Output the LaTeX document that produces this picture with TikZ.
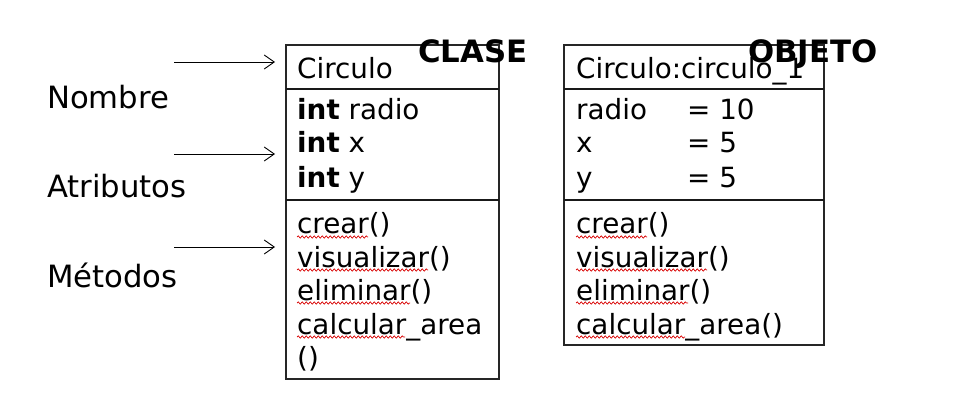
\documentclass[tikz,border=0pt]{standalone}
\usepackage{fontspec}
\setmainfont{DejaVu Sans}
\usetikzlibrary{arrows.meta,decorations.pathmorphing}
\begin{document}
\begin{tikzpicture}[x=1pt,y=-1pt,
  txt/.style={anchor=base west,inner sep=0pt,font=\fontsize{27.8}{33}\selectfont},
  lbl/.style={anchor=base west,inner sep=0pt,font=\fontsize{30.7}{36}\selectfont},
  ttl/.style={anchor=base west,inner sep=0pt,font=\fontsize{30.8}{36}\selectfont\bfseries},
  box/.style={draw=black!85,line width=1.3pt},
  sep/.style={draw=black!90,line width=1.8pt},
  arr/.style={-{Straight Barb[length=10pt,width=14pt]},line width=0.9pt},
  spell/.style={draw=red!85!black,line width=0.7pt,decorate,decoration={snake,amplitude=1.1pt,segment length=4pt}}]
\useasboundingbox[fill=white] (0,0) rectangle (970,420);

% class box
\draw[box] (286,45) rectangle (499,379);
\draw[sep] (286,89) -- (499,89);
\draw[sep] (286,200) -- (499,200);
% object box
\draw[box] (564,45) rectangle (824,345);
\draw[sep] (564,89) -- (824,89);
\draw[sep] (564,200) -- (824,200);

% left labels
\node[lbl] (nombre) at (47,108) {Nombre};
\node[lbl] (atrib) at (47,197) {Atributos};
\node[lbl] (metod) at (47,287) {Métodos};

% arrows
\coordinate (a1s) at (174,62);  \coordinate (a1e) at (275,62);
\coordinate (a2s) at (174,154); \coordinate (a2e) at (275,154);
\coordinate (a3s) at (174,247); \coordinate (a3e) at (275,247);
\draw[arr] (a1s) -- (a1e);
\draw[arr] (a2s) -- (a2e);
\draw[arr] (a3s) -- (a3e);

% class texts
\node[txt] (cname) at (297,79) {Circulo};
\node[txt] (ca1) at (297,120) {\textbf{int} radio};
\node[txt] (ca2) at (297,153) {\textbf{int} x};
\node[txt] (ca3) at (297,187) {\textbf{int} y};
\node[txt] (cm1) at (297,233) {crear()};
\node[txt] (cm2) at (297,267) {visualizar()};
\node[txt] (cm3) at (297,300) {eliminar()};
\node[txt] (cm4) at (297,334) {calcular\_area};
\node[txt] (cm5) at (297,367) {()};

% object texts
\node[txt] (oname) at (576,79) {Circulo:circulo\_1};
\node[txt] (oa1) at (576,120) {radio};
\node[txt] (oa2) at (576,153) {x};
\node[txt] (oa3) at (576,187) {y};
\node[txt] (ov1) at (687,120) {= 10};
\node[txt] (ov2) at (687,153) {= 5};
\node[txt] (ov3) at (687,187) {= 5};
\node[txt] (om1) at (576,233) {crear()};
\node[txt] (om2) at (576,267) {visualizar()};
\node[txt] (om3) at (576,300) {eliminar()};
\node[txt] (om4) at (576,334) {calcular\_area()};

% titles
\node[ttl] (clase) at (418,63) {CLASE};
\node[ttl] (objeto) at (748,63) {OBJETO};

% spell-check underlines
\draw[spell] (297,237) -- (368,237);
\draw[spell] (297,270) -- (428,270);
\draw[spell] (297,303) -- (410,303);
\draw[spell] (297,337) -- (405,337);
\draw[spell] (576,237) -- (647,237);
\draw[spell] (576,270) -- (707,270);
\draw[spell] (576,303) -- (688,303);
\draw[spell] (576,337) -- (685,337);
\end{tikzpicture}
\end{document}
